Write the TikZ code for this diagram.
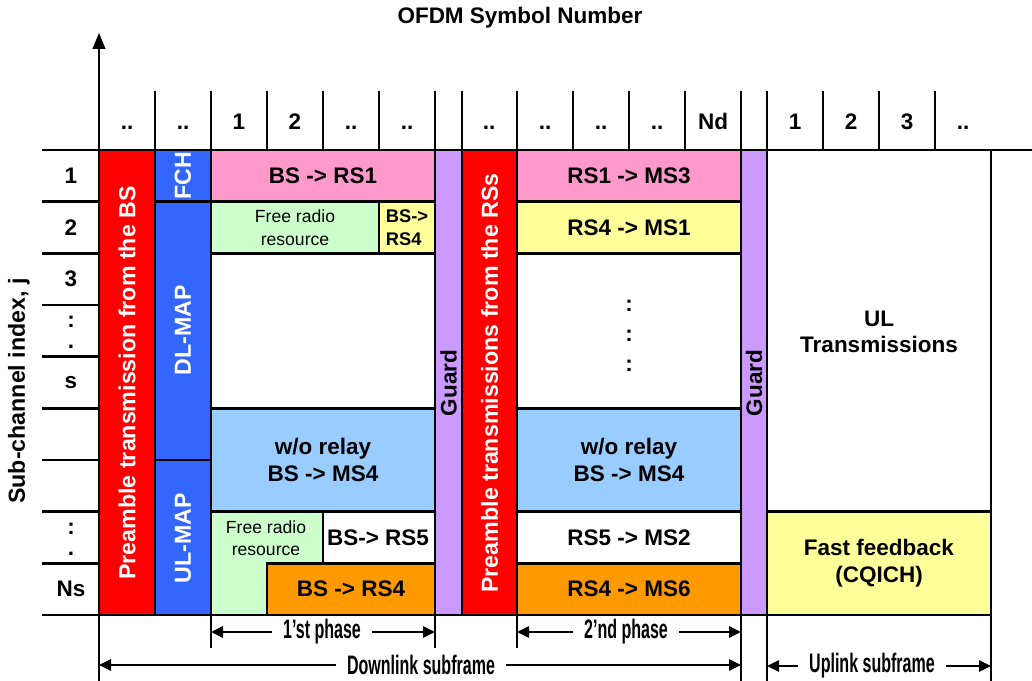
\documentclass[tikz,border=0pt]{standalone}
\usepackage{fontspec}
\setmainfont{Liberation Sans}
\usepackage{graphicx}
\usetikzlibrary{arrows.meta}
\definecolor{preamred}{HTML}{FF0000}
\definecolor{mapblue}{HTML}{3366FF}
\definecolor{linkpink}{HTML}{FF99CC}
\definecolor{freegreen}{HTML}{CCFFCC}
\definecolor{linkyellow}{HTML}{FFFF99}
\definecolor{directblue}{HTML}{99CCFF}
\definecolor{linkorange}{HTML}{FF9900}
\definecolor{guardviolet}{HTML}{CC99FF}
\newcommand{\narrowtxt}[1]{\scalebox{0.6}[1]{#1}}

\begin{document}
\begin{tikzpicture}[
  x=0.025cm, y=-0.025cm,
  gridline/.style={line width=2pt},
  cell/.style={draw, line width=2pt},
  lab/.style={font=\bfseries\fontsize{16}{19}\selectfont, align=center},
  freelab/.style={font=\fontsize{12.5}{16}\selectfont, align=center},
  vlab/.style={lab, font=\bfseries\fontsize{16.5}{19}\selectfont, rotate=90, text=white},
  spanlab/.style={font=\bfseries\fontsize{19}{21}\selectfont, inner xsep=8pt},
  spanarrow/.style={line width=1.5pt, -{Triangle[length=3mm,width=2.8mm]}},
]
  \useasboundingbox (0,0) rectangle (1032,681);

  % axes
  \node[lab, font=\bfseries\fontsize{16}{18}\selectfont] (title) at (520,18) {OFDM Symbol Number};
  \node[lab, rotate=90, font=\bfseries\fontsize{16.5}{18}\selectfont] (yaxis) at (19,391) {Sub-channel index, j};
  \coordinate (orig) at (99,150);
  \coordinate (ytip) at (99,33);
  \coordinate (xleft) at (42,150);
  \coordinate (xright) at (1032,150);
  \draw[line width=1.3pt, -{Triangle[length=4mm,width=3.2mm]}] (orig) -- (ytip);

  % OFDM symbol header
  \foreach \x in {99,155,211,267,323,379,435,462,517,573,629,685,741,767,823,879,935}
    \draw[gridline] (\x,91) -- (\x,150);
  \foreach \x/\t in {127/..,183/..,239/1,295/2,351/..,407/..,489/..,545/..,601/..,657/..,713/Nd,795/1,851/2,907/3,963/..}
    \node[lab, anchor=base] (h\x) at (\x,130) {\t};

  % sub-channel rows
  \foreach \y in {201.7,253.3,305,356.7,408.3,460,511.7,563.3}
    \draw[gridline] (42,\y) -- (99,\y);
  \foreach \t [count=\i] in {1,2,3,{},s,{},{},{},Ns}
    \node[lab] (r\i) at (71,{150+51.67*(\i-0.5)}) {\t};
  \foreach \y [count=\i] in {305,511.7} {
    \node[lab, inner sep=0pt] (rc\i) at (71,\y+17) {:};
    \node[lab, inner sep=0pt] (rp\i) at (71,\y+42) {.};
  }

  % first phase (BS)
  \path[cell, fill=preamred] (99,150) rectangle (155,615);
  \path[cell, fill=mapblue] (155,150) rectangle (211,201.7);
  \path[cell, fill=mapblue] (155,201.7) rectangle (211,460);
  \path[cell, fill=mapblue] (155,460) rectangle (211,615);
  \path[cell, fill=linkpink] (211,150) rectangle (435,201.7);
  \path[cell, fill=freegreen] (211,201.7) rectangle (379,253.3);
  \path[cell, fill=linkyellow] (379,201.7) rectangle (435,253.3);
  \path[cell] (211,253.3) rectangle (435,408.3);
  \path[cell, fill=directblue] (211,408.3) rectangle (435,511.7);
  \path[cell, fill=freegreen] (211,511.7) rectangle (323,615);
  \path[cell, fill=white] (323,511.7) rectangle (435,563.3);
  \path[cell, fill=linkorange] (267,563.3) rectangle (435,615);
  \path[cell, fill=guardviolet] (435,150) rectangle (462,615);

  \node[vlab] (preBS) at (127,383) {Preamble transmission from the BS};
  \node[vlab] (fch) at (183,176) {FCH};
  \node[vlab] (dlmap) at (183,330) {DL-MAP};
  \node[vlab] (ulmap) at (183,538) {UL-MAP};
  \node[lab] (bsrs1) at (323,176) {BS -> RS1};
  \node[freelab] (free1) at (295,227.5) {Free radio\\resource};
  \node[lab, align=left, font=\bfseries\fontsize{13}{16}\selectfont] (bsrs4a) at (407,227.5) {BS->\\RS4};
  \node[lab] (direct1) at (323,460) {w/o relay\\BS -> MS4};
  \node[freelab] (free2) at (266,538) {Free radio\\resource};
  \node[lab] (bsrs5) at (378,537.5) {BS-> RS5};
  \node[lab] (bsrs4b) at (351,589) {BS -> RS4};
  \node[lab, rotate=90] (guard1) at (448.5,383) {Guard};

  % second phase (RSs)
  \path[cell, fill=preamred] (462,150) rectangle (517,615);
  \path[cell, fill=linkpink] (517,150) rectangle (741,201.7);
  \path[cell, fill=linkyellow] (517,201.7) rectangle (741,253.3);
  \path[cell] (517,253.3) rectangle (741,408.3);
  \path[cell, fill=directblue] (517,408.3) rectangle (741,511.7);
  \path[cell, fill=white] (517,511.7) rectangle (741,563.3);
  \path[cell, fill=linkorange] (517,563.3) rectangle (741,615);
  \path[cell, fill=guardviolet] (741,150) rectangle (767,615);

  \node[vlab] (preRS) at (489.5,383) {Preamble transmissions from the RSs};
  \node[lab] (rs1ms3) at (629,176) {RS1 -> MS3};
  \node[lab] (rs4ms1) at (629,227.5) {RS4 -> MS1};
  \foreach \y in {306,336,366}
    \node[lab] (dots\y) at (629,\y) {:};
  \node[lab] (direct2) at (629,460) {w/o relay\\BS -> MS4};
  \node[lab] (rs5ms2) at (629,537.5) {RS5 -> MS2};
  \node[lab] (rs4ms6) at (629,589) {RS4 -> MS6};
  \node[lab, rotate=90] (guard2) at (754,383) {Guard};

  % uplink
  \path[cell] (767,150) rectangle (991,511.7);
  \path[cell, fill=linkyellow] (767,511.7) rectangle (991,615);
  \node[lab] (ultx) at (879,332) {UL\\Transmissions};
  \node[lab] (cqich) at (879,563) {Fast feedback\\(CQICH)};

  \draw[gridline] (xleft) -- (xright);
  \draw[gridline] (42,615) -- (991,615);

  % subframe spans
  \foreach \x/\yb in {99/681,211/648,435/648,517/648,741/681,767/681,991/681}
    \draw[gridline] (\x,615) -- (\x,\yb);
  \foreach \n/\xm/\ym/\xa/\xb/\t in {ph1/322/632/211/435/{1'st phase},ph2/626/632/517/741/{2'nd phase},dl/421/665/99/741/{Downlink subframe},ul/872/666/767/991/{Uplink subframe}} {
    \node[spanlab] (\n) at (\xm,\ym) {\narrowtxt{\t}};
    \coordinate (\n-l) at (\xa,\ym);
    \coordinate (\n-r) at (\xb,\ym);
    \draw[spanarrow] (\n.west) -- (\n-l);
    \draw[spanarrow] (\n.east) -- (\n-r);
  }
\end{tikzpicture}
\end{document}
